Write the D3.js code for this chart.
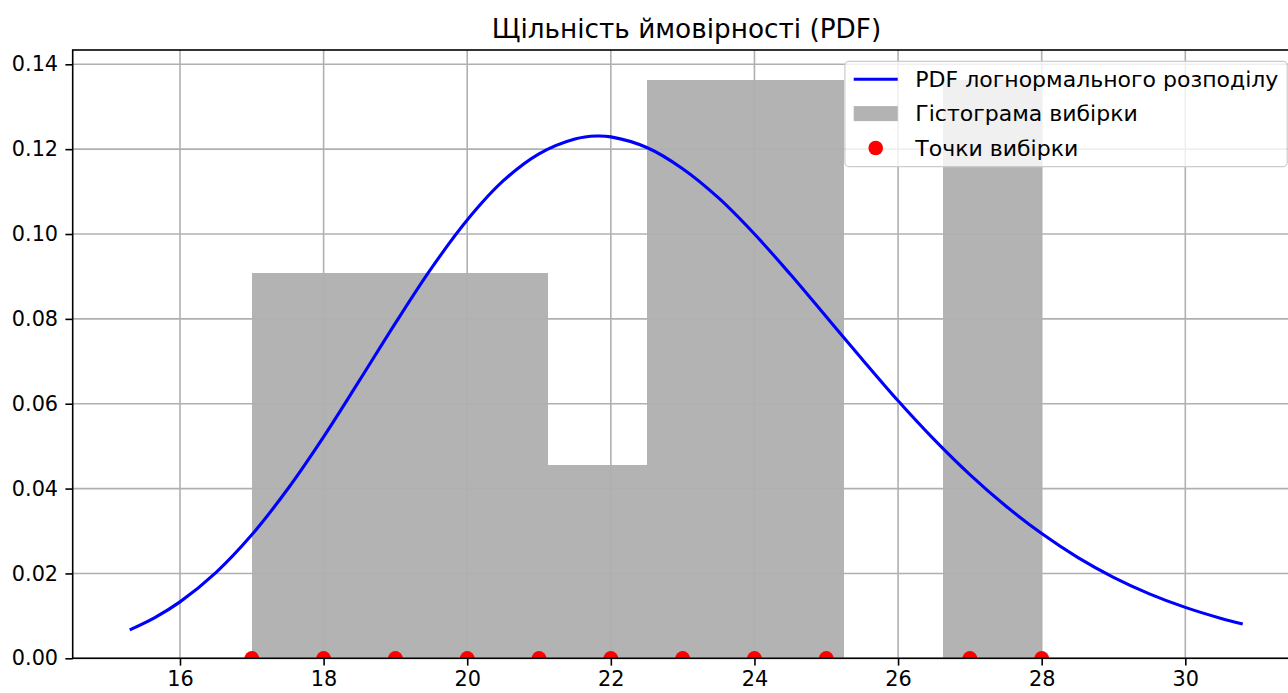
<!DOCTYPE html>
<html>
<head>
<meta charset="utf-8">
<script src="https://d3js.org/d3.v7.min.js"></script>
<style>
	body{margin:0;background:#fff;}
	svg{display:block;font-family:"DejaVu Sans",sans-serif;}
</style>
</head>
<body>
<div id="chart"></div>
<script>
// 제목/범례 텍스트
var titleText = "Щільність ймовірності (PDF)";
var legendLabels = ["PDF логнормального розподілу", "Гістограма вибірки", "Точки вибірки"];

// 히스토그램 (bin 경계, 밀도)
var binEdges = [17, 18.375, 19.75, 21.125, 22.5, 23.875, 25.25, 26.625, 28];
var binDensity = [0.0909, 0.0909, 0.0909, 0.0455, 0.1364, 0.1364, 0, 0.1364];

// 표본 점
var samplePoints = [17, 18, 19, 20, 21, 22, 23, 24, 25, 27, 28];

// PDF 곡선
var pdfX = [15.3, 15.65, 16, 16.5, 17, 17.5, 18, 18.5, 19, 19.5, 20, 20.5, 21, 21.5, 21.8, 22, 22.5, 23, 23.5,
	24, 24.5, 25, 25.5, 26, 26.5, 27, 27.5, 28, 28.5, 29, 29.5, 30, 30.5, 30.8];
var pdfY = [0.0067, 0.0096, 0.0133, 0.0202, 0.0291, 0.0399, 0.0522, 0.0655, 0.0790, 0.0919, 0.1033, 0.1125, 0.1189, 0.1224, 0.1231, 0.1229, 0.1204, 0.1154, 0.1085,
	0.1000, 0.0905, 0.0805, 0.0705, 0.0607, 0.0516, 0.0433, 0.0359, 0.0294, 0.0238, 0.0191, 0.0152, 0.0120, 0.0094, 0.0081];

var xTicks = [16, 18, 20, 22, 24, 26, 28, 30];
var yTicks = [0, 0.02, 0.04, 0.06, 0.08, 0.10, 0.12, 0.14];

var W = 1288, H = 693;
var fs = 20.8;      // 눈금 글꼴
var lfs = 22;       // 범례 글꼴
var tfs = 26.3;     // 제목 글꼴

var x = d3.scaleLinear().domain([14.506, 31.6]).range([72.7, 1300.2]);
var y = d3.scaleLinear().domain([0, 0.14337]).range([658.3, 50]);

var svg = d3.select("#chart").append("svg")
	.attr("width", W)
	.attr("height", H);

svg.append("rect").attr("width", W).attr("height", H).attr("fill", "#fff");

svg.append("clipPath").attr("id", "plotClip")
	.append("rect")
	.attr("x", x.range()[0]).attr("y", y.range()[1])
	.attr("width", x.range()[1] - x.range()[0])
	.attr("height", y.range()[0] - y.range()[1]);

var plot = svg.append("g").attr("clip-path", "url(#plotClip)");

// 막대
var bins = binDensity.map(function(d, i){
	return {x0: binEdges[i], x1: binEdges[i + 1], v: d};
});
plot.append("g").attr("class", "bars")
	.selectAll("rect")
	.data(bins.filter(function(d){ return d.v > 0; }))
	.enter().append("rect")
	.attr("x", function(d){ return x(d.x0); })
	.attr("width", function(d){ return x(d.x1) - x(d.x0); })
	.attr("y", function(d){ return y(d.v); })
	.attr("height", function(d){ return y(0) - y(d.v); })
	.attr("fill", "#808080")
	.attr("fill-opacity", 0.6)
	.attr("shape-rendering", "crispEdges");

// 그리드 (막대 위, 선 아래)
var grid = plot.append("g").attr("class", "grid")
	.attr("stroke", "#b0b0b0")
	.attr("stroke-width", 1.6);
grid.selectAll(".gx").data(xTicks).enter().append("line")
	.attr("x1", function(d){ return x(d); }).attr("x2", function(d){ return x(d); })
	.attr("y1", y.range()[0]).attr("y2", y.range()[1]);
grid.selectAll(".gy").data(yTicks).enter().append("line")
	.attr("y1", function(d){ return y(d); }).attr("y2", function(d){ return y(d); })
	.attr("x1", x.range()[0]).attr("x2", x.range()[1]);

// PDF 곡선
var line = d3.line()
	.x(function(d){ return x(d[0]); })
	.y(function(d){ return y(d[1]); })
	.curve(d3.curveCatmullRom.alpha(0.5));
plot.append("path")
	.datum(pdfX.map(function(d, i){ return [d, pdfY[i]]; }))
	.attr("fill", "none")
	.attr("stroke", "#0000ff")
	.attr("stroke-width", 3.1)
	.attr("stroke-linejoin", "round")
	.attr("d", line);

// 표본 점
plot.append("g").attr("class", "points")
	.selectAll("circle")
	.data(samplePoints)
	.enter().append("circle")
	.attr("cx", function(d){ return x(d); })
	.attr("cy", y(0))
	.attr("r", 7.3)
	.attr("fill", "#ff0000");

// 축
var xAxis = svg.append("g")
	.attr("transform", "translate(0," + y.range()[0] + ")")
	.call(d3.axisBottom(x).tickValues(xTicks).tickFormat(d3.format("d")).tickSize(7.3).tickPadding(6));
var yAxis = svg.append("g")
	.attr("transform", "translate(" + x.range()[0] + ",0)")
	.call(d3.axisLeft(y).tickValues(yTicks).tickFormat(d3.format(".2f")).tickSize(7.3).tickPadding(7.3));
[xAxis, yAxis].forEach(function(a){
	a.select(".domain").remove();
	a.selectAll("line").attr("stroke", "#000").attr("stroke-width", 1.6);
	a.selectAll("text").attr("fill", "#000").style("font-size", fs + "px").style("font-family", "DejaVu Sans");
});

// 테두리
svg.append("rect")
	.attr("x", x.range()[0]).attr("y", y.range()[1])
	.attr("width", x.range()[1] - x.range()[0])
	.attr("height", y.range()[0] - y.range()[1])
	.attr("fill", "none")
	.attr("stroke", "#000")
	.attr("stroke-width", 1.6);

// 제목
svg.append("text")
	.attr("x", (x.range()[0] + x.range()[1]) / 2)
	.attr("y", 37.5)
	.attr("text-anchor", "middle")
	.style("font-size", tfs + "px")
	.attr("fill", "#000")
	.text(titleText);

// 범례
var lg = svg.append("g").attr("class", "legend");
var lgBox = lg.append("rect");
var lgItems = lg.selectAll(".item").data(legendLabels).enter().append("g").attr("class", "item");
var textW = 0;
lgItems.append("text")
	.attr("dy", "0.35em")
	.style("font-size", lfs + "px")
	.attr("fill", "#000")
	.text(function(d){ return d; })
	.each(function(){ textW = Math.max(textW, this.getComputedTextLength()); });

var lgRight = x.range()[1] - 13;
var lgTop = y.range()[1] + 11.4;
var lgW = lfs * (0.4 + 2.0 + 0.8 + 0.4) + textW;
var lgLeft = lgRight - lgW;
var rowH = 34.4;
lgBox.attr("x", lgLeft).attr("y", lgTop)
	.attr("width", lgW).attr("height", rowH * 3 + 2)
	.attr("rx", 4).attr("ry", 4)
	.attr("fill", "#fff").attr("fill-opacity", 0.8)
	.attr("stroke", "#cccccc").attr("stroke-width", 1.2);

lgItems.attr("transform", function(d, i){
	return "translate(" + (lgLeft + lfs * 0.4) + "," + (lgTop + 17.8 + i * rowH) + ")";
});
lgItems.select("text").attr("x", lfs * 2.8);

d3.select(lgItems.nodes()[0]).append("line")
	.attr("x1", 0).attr("x2", lfs * 2)
	.attr("stroke", "#0000ff").attr("stroke-width", 3.1);
d3.select(lgItems.nodes()[1]).append("rect")
	.attr("x", 0).attr("y", -7.5).attr("width", lfs * 2).attr("height", 15)
	.attr("fill", "#808080").attr("fill-opacity", 0.6);
d3.select(lgItems.nodes()[2]).append("circle")
	.attr("cx", lfs).attr("cy", 0).attr("r", 7.3)
	.attr("fill", "#ff0000");
</script>
</body>
</html>
